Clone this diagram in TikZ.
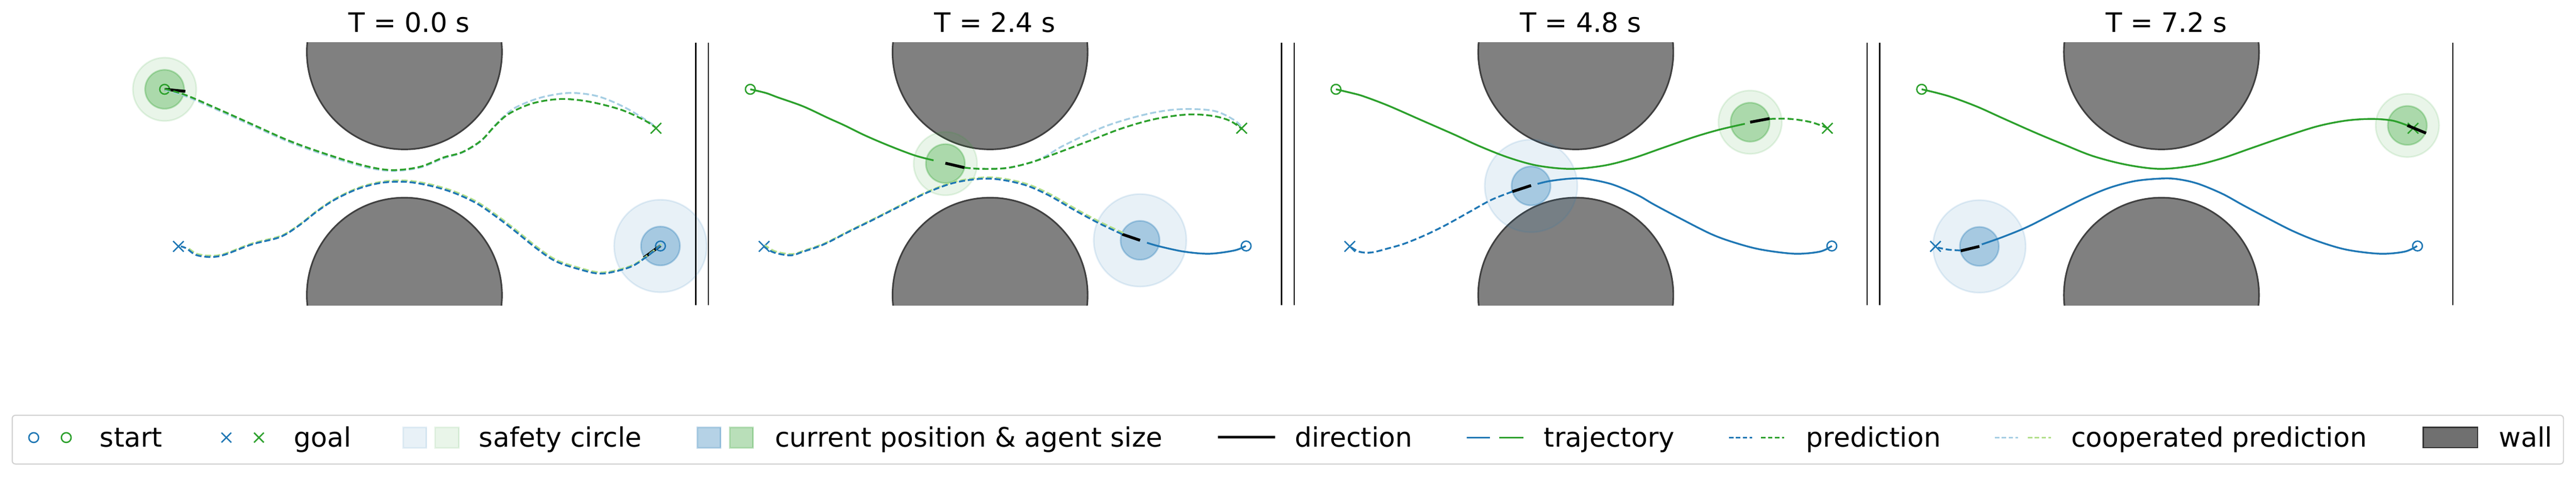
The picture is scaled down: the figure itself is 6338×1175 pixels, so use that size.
\documentclass[tikz,border=0pt]{standalone}
\usepackage{fontspec}
\setmainfont{DejaVu Sans}
\definecolor{tabblue}{RGB}{31,119,180}
\definecolor{tabgreen}{RGB}{44,160,44}
\definecolor{lblue}{RGB}{166,206,227}
\definecolor{lgreen}{RGB}{178,223,138}
\definecolor{obsfill}{RGB}{128,128,128}
\definecolor{obsedge}{RGB}{64,64,64}
\definecolor{legframe}{RGB}{210,210,210}
\definecolor{wallfill}{RGB}{112,112,112}
\definecolor{walledge}{RGB}{51,51,51}
\begin{document}
\begin{tikzpicture}[x=0.25pt,y=-0.25pt,
  obst/.style={fill=obsfill, draw=obsedge, line width=1pt},
  wallline/.style={draw=black, line width=0.8pt},
  traj/.style={line width=1.1pt, line join=round},
  pred/.style={line width=1.1pt, dash pattern=on 3.75pt off 1.75pt},
  safe/.style={fill=#1, fill opacity=0.1, draw=#1, draw opacity=0.12, line width=1pt},
  agentc/.style={fill=#1, fill opacity=0.33, draw=#1, draw opacity=0.3, line width=1pt},
  dirl/.style={draw=black, line width=1.75pt},
  startm/.style={draw=#1, line width=0.85pt},
  goalm/.style={draw=#1, line width=0.85pt},
  ttl/.style={font=\fontsize{16.5pt}{20pt}\selectfont, anchor=base, inner sep=0pt},
  lbl/.style={font=\fontsize{16.5pt}{20pt}\selectfont, anchor=base west, inner sep=0pt},
  lpred/.style={line width=1pt, dash pattern=on 2.75pt off 1.5pt},
  sm/.style={smooth, tension=0.55}]
\useasboundingbox (0,0) rectangle (6338,1175);

% ---------- common panel parts ----------
\foreach \Xc/\T/\n in {995/0.0/1, 2436/2.4/2, 3877/4.8/3, 5318/7.2/4} {
  \begin{scope}[shift={(\Xc,0)}]
    \begin{scope}
      \clip (-260,105) rectangle (260,752);
      \draw[obst] (0,128) circle[radius=60pt];
      \draw[obst] (0,727) circle[radius=60pt];
    \end{scope}
    \draw[wallline] (717,105) -- (717,752);
    \node[ttl] (title\n) at (12,79) {T = \T\ s};
  \end{scope}
}
\foreach \xw in {1743,3184,4625} {
  \draw[wallline] (\xw,105) -- (\xw,752);
}

% ---------- circles ----------
% panel 1
\begin{scope}[shift={(995,0)}]
  \fill[safe=tabgreen] (-590,220) circle[radius=19.5pt];
  \fill[agentc=tabgreen] (-590,220) circle[radius=12pt];
  \fill[safe=tabblue] (630,606) circle[radius=28.5pt];
  \fill[agentc=tabblue] (630,606) circle[radius=12pt];
\end{scope}
% panel 2
\begin{scope}[shift={(2436,0)}]
  \fill[safe=tabgreen] (-110,403) circle[radius=19.5pt];
  \fill[agentc=tabgreen] (-110,403) circle[radius=12pt];
  \fill[safe=tabblue] (369,592) circle[radius=28.5pt];
  \fill[agentc=tabblue] (369,592) circle[radius=12pt];
\end{scope}
% panel 3
\begin{scope}[shift={(3877,0)}]
  \fill[safe=tabgreen] (429,301) circle[radius=19.5pt];
  \fill[agentc=tabgreen] (429,301) circle[radius=12pt];
  \fill[safe=tabblue] (-110,458) circle[radius=28.5pt];
  \fill[agentc=tabblue] (-110,458) circle[radius=12pt];
\end{scope}
% panel 4
\begin{scope}[shift={(5318,0)}]
  \fill[safe=tabgreen] (605,309) circle[radius=19.5pt];
  \fill[agentc=tabgreen] (605,309) circle[radius=12pt];
  \fill[safe=tabblue] (-448,607) circle[radius=28.5pt];
  \fill[agentc=tabblue] (-448,607) circle[radius=12pt];
\end{scope}

% ---------- start / goal markers ----------
\foreach \Xc in {995,2436,3877,5318} {
  \begin{scope}[shift={(\Xc,0)}]
    \draw[startm=tabgreen] (-590,220) circle[radius=3pt];
    \draw[startm=tabblue] (630,606) circle[radius=3pt];
    \draw[goalm=tabgreen] (619,316) +(-13,-13) -- +(13,13) (619,316) +(-13,13) -- +(13,-13);
    \draw[goalm=tabblue] (-556,607) +(-13,-13) -- +(13,13) (-556,607) +(-13,13) -- +(13,-13);
  \end{scope}
}

% ---------- panel 1 ----------
\begin{scope}[shift={(995,0)}]
  \draw[dirl] (-590,220) -- (-539,225);
  \draw[dirl] (630,605) -- (589,635);
  \draw[pred, lblue] plot[sm] coordinates {(-590,221) (-536,238) (-455,273) (-375,309) (-283,350) (-191,383) (-99,411) (-31,421) (38,413) (96,390) (142,376) (188,348) (222,310) (250,282) (279,262) (337,240) (406,229) (475,237) (543,265) (607,304) (618,314)};
  \draw[pred, tabgreen] plot[sm] coordinates {(-590,219) (-536,235) (-455,270) (-375,306) (-283,347) (-191,380) (-99,408) (-31,419) (38,411) (96,388) (142,375) (188,347) (222,311) (256,281) (314,255) (383,244) (452,250) (532,270) (590,296) (618,314)};
  \draw[pred, lgreen] plot[sm] coordinates {(632,602) (597,630) (557,655) (488,671) (431,660) (373,640) (327,609) (270,563) (224,528) (178,497) (121,471) (63,454) (6,445) (-52,447) (-109,461) (-166,487) (-212,517) (-258,553) (-304,581) (-373,599) (-442,625) (-476,630) (-511,625) (-534,609)};
  \draw[pred, tabblue] plot[sm] coordinates {(630,605) (595,633) (555,658) (486,674) (429,663) (371,643) (325,612) (268,566) (222,531) (176,500) (119,474) (61,457) (4,448) (-54,450) (-111,464) (-168,490) (-214,520) (-260,556) (-306,584) (-375,602) (-444,628) (-478,633) (-513,628) (-536,612) (-550,607)};
\end{scope}

% ---------- panel 2 ----------
\begin{scope}[shift={(2436,0)}]
  \draw[traj, tabgreen] plot[sm] coordinates {(-590,220) (-552,229) (-522,240) (-460,262) (-400,290) (-358,309) (-307,334) (-246,360) (-185,383) (-139,395)};
  \draw[traj, tabblue] plot[sm] coordinates {(629,606) (601,617) (540,625) (478,620) (417,607) (386,598)};
  \draw[dirl] (-110,402) -- (-63,413);
  \draw[dirl] (369,592) -- (325,577);
  \draw[pred, lblue] plot[sm] coordinates {(-63,413) (-22,416) (40,414) (101,400) (140,383) (182,358) (284,311) (386,281) (468,269) (550,273) (601,296) (621,316)};
  \draw[pred, tabgreen] plot[sm] coordinates {(-63,413) (-22,416) (40,414) (101,400) (162,378) (244,347) (325,316) (407,293) (488,282) (550,286) (591,298) (621,319)};
  \draw[pred, lgreen] plot[sm] coordinates {(328,574) (267,545) (206,512) (145,477) (83,451) (2,437) (-80,446) (-151,471) (-223,507) (-284,538) (-345,568) (-406,599) (-457,617) (-488,626) (-529,619) (-554,604)};
  \draw[pred, tabblue] plot[sm] coordinates {(325,577) (264,548) (203,515) (142,480) (80,454) (-1,440) (-83,449) (-154,474) (-226,510) (-287,541) (-348,571) (-409,602) (-460,620) (-491,629) (-532,622) (-557,607)};
\end{scope}

% ---------- panel 3 ----------
\begin{scope}[shift={(3877,0)}]
  \draw[traj, tabgreen] plot[sm] coordinates {(-590,220) (-552,229) (-523,237) (-462,260) (-380,296) (-298,332) (-237,360) (-166,388) (-94,408) (-13,416) (69,408) (140,390) (212,365) (293,337) (355,319) (416,305)};
  \draw[traj, tabblue] plot[sm] coordinates {(630,606) (600,620) (538,625) (457,615) (395,599) (334,577) (253,536) (191,503) (151,480) (89,454) (28,441) (-13,440) (-64,446) (-94,453)};
  \draw[dirl] (429,301) -- (477,292);
  \draw[dirl] (-110,457) -- (-156,472);
  \draw[pred, tabgreen] plot[sm] coordinates {(477,293) (528,293) (579,301) (618,315)};
  \draw[pred, tabblue] plot[sm] coordinates {(-156,472) (-207,492) (-258,520) (-319,554) (-370,579) (-421,600) (-462,612) (-503,622) (-533,620) (-556,607)};
\end{scope}

% ---------- panel 4 ----------
\begin{scope}[shift={(5318,0)}]
  \draw[traj, tabgreen] plot[sm] coordinates {(-590,220) (-552,229) (-514,240) (-453,263) (-391,291) (-310,327) (-238,357) (-167,385) (-85,406) (-4,416) (78,408) (149,390) (221,365) (302,337) (384,311) (455,297) (517,293) (568,297) (605,309)};
  \draw[traj, tabblue] plot[sm] coordinates {(629,606) (598,620) (537,625) (455,615) (384,594) (323,569) (262,538) (200,505) (149,477) (88,452) (37,441) (-4,440) (-65,446) (-126,462) (-187,487) (-259,523) (-330,559) (-391,584) (-442,602)};
  \draw[dirl] (605,309) -- (651,328);
  \draw[dirl] (-448,607) -- (-494,618);
  \draw[pred, tabblue] plot[sm] coordinates {(-494,617) (-524,615) (-550,610)};
\end{scope}

% ---------- legend ----------
\draw[draw=legframe, fill=white, line width=0.7pt, rounded corners=2pt] (30,1023) rectangle (6307,1143);
\draw[startm=tabblue] (83,1078) circle[radius=3pt];
\draw[startm=tabgreen] (163,1078) circle[radius=3pt];
\node[lbl] (lstart) at (245,1101) {start};
\draw[goalm=tabblue] (557,1078) +(-12,-12) -- +(12,12) (557,1078) +(-12,12) -- +(12,-12);
\draw[goalm=tabgreen] (637,1078) +(-12,-12) -- +(12,12) (637,1078) +(-12,12) -- +(12,-12);
\node[lbl] (lgoal) at (722,1101) {goal};
\fill[safe=tabblue] (992,1053) rectangle (1049,1103);
\fill[safe=tabgreen] (1071,1053) rectangle (1129,1103);
\node[lbl] (lsafe) at (1178,1101) {safety circle};
\fill[agentc=tabblue] (1716,1053) rectangle (1773,1103);
\fill[agentc=tabgreen] (1796,1053) rectangle (1853,1103);
\node[lbl] (lcur) at (1906,1101) {current position \& agent size};
\draw[dirl] (2996,1077) -- (3137,1077);
\node[lbl] (ldir) at (3185,1101) {direction};
\draw[line width=1pt, tabblue] (3609,1078) -- (3666,1078);
\draw[line width=1pt, tabgreen] (3689,1078) -- (3748,1078);
\node[lbl] (ltraj) at (3798,1101) {trajectory};
\draw[lpred, tabblue] (4254,1078) -- (4311,1078);
\draw[lpred, tabgreen] (4333,1078) -- (4390,1078);
\node[lbl] (lpredt) at (4443,1101) {prediction};
\draw[lpred, lblue] (4908,1078) -- (4965,1078);
\draw[lpred, lgreen] (4989,1078) -- (5046,1078);
\node[lbl] (lcoop) at (5095,1101) {cooperated prediction};
\draw[fill=wallfill, draw=walledge, line width=0.8pt] (5962,1053) rectangle (6096,1103);
\node[lbl] (lwall) at (6148,1101) {wall};
\end{tikzpicture}
\end{document}
